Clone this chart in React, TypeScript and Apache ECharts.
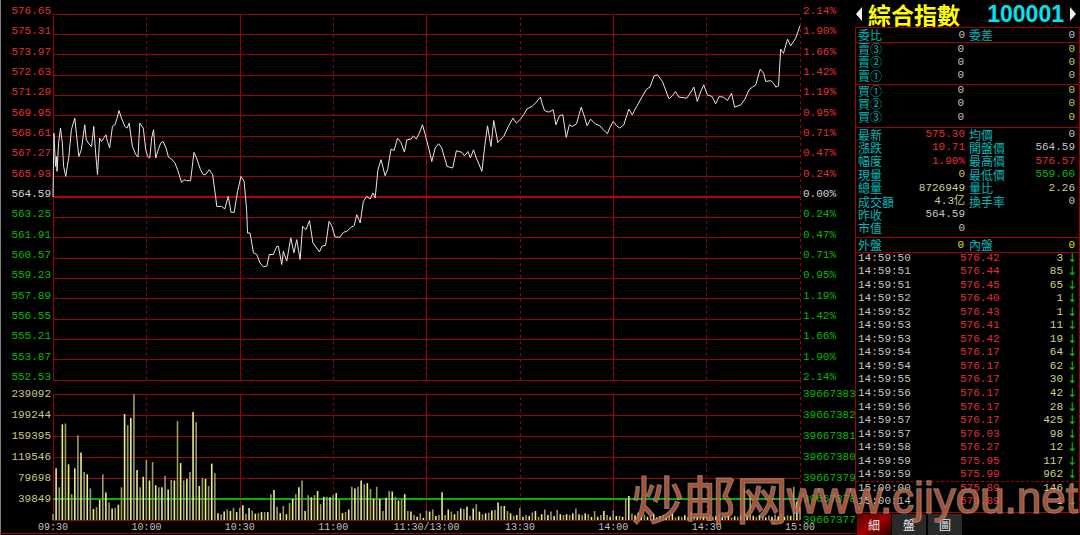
import React, { useEffect, useRef } from 'react';
import * as echarts from 'echarts';

// ---------- chart data ----------
const PREV_CLOSE = 564.59;
const PRICE_STEP = 1.34;
const PRICE_STEPS = 9;
const TIME_LABELS = ['09:30', '10:00', '10:30', '11:00', '11:30/13:00', '13:30', '14:00', '14:30', '15:00'];
const SOLID_X = [60, 120, 180];
const DASHED_X = [30, 90, 150, 210, 240];

// minutes since 09:30 (trading minutes) and index values
const PRICE_MIN = [
  0, 0.3, 0.8, 1.1, 1.3, 1.8, 2.4, 3.0, 3.4, 4.1, 5.1, 5.9, 7.0, 7.5, 8.3, 9.1, 10.2, 10.7, 11.8, 12.4,
  13.1, 13.7, 14.3, 15.0, 15.6, 16.3, 17.0, 17.5, 18.2, 19.1, 19.9, 20.6, 21.2, 22.0, 23.1, 23.8, 24.5, 24.9, 25.5, 26.6,
  27.3, 27.9, 29.0, 29.8, 30.4, 31.1, 31.7, 32.3, 33.0, 33.8, 34.6, 35.4, 36.3, 37.1, 38.1, 39.2, 40.2, 41.3, 42.1, 42.9,
  44.2, 45.3, 46.1, 47.4, 48.3, 49.0, 50.2, 51.3, 52.3, 52.6, 54.2, 55.2, 56.3, 57.2, 58.2, 59.3, 60.4, 61.4, 62.2, 62.5,
  63.3, 64.4, 65.5, 66.5, 67.6, 68.7, 69.5, 70.8, 71.9, 72.4, 73.5, 74.0, 75.1, 76.4, 77.4, 78.3, 79.4, 80.2, 81.3, 82.4,
  83.5, 85.6, 86.4, 87.6, 88.7, 89.6, 90.6, 92.2, 93.3, 94.4, 95.8, 96.8, 97.6, 98.7, 99.7, 100.8, 101.9, 102.8, 103.5, 104.4,
  105.4, 106.7, 107.5, 108.6, 109.6, 110.7, 111.8, 112.9, 113.7, 115.1, 115.8, 116.7, 117.7, 118.7, 119.6, 120.7, 121.7, 122.8, 123.9, 124.9,
  126.6, 128.4, 129.6, 131.4, 132.2, 133.3, 134.1, 135.1, 136.0, 136.7, 137.8, 138.7, 139.6, 140.7, 141.6, 142.9, 144.8, 146.4, 147.8, 148.9,
  150.2, 151.2, 152.3, 153.9, 155.0, 156.6, 157.1, 157.9, 159.3, 160.7, 161.6, 162.7, 163.8, 164.9, 165.9, 166.8, 168.2, 169.7, 170.8, 171.6,
  172.7, 174.3, 175.7, 176.8, 178.1, 179.1, 180.0, 181.0, 182.1, 183.4, 185.0, 186.1, 187.5, 189.3, 190.7, 191.8, 193.1, 194.2, 195.8, 196.8,
  197.9, 199.0, 200.0, 201.1, 203.6, 204.6, 205.9, 207.0, 208.1, 209.1, 210.2, 211.8, 212.9, 214.0, 215.4, 216.7, 218.0, 219.0, 221.0, 222.3,
  223.6, 224.7, 225.8, 227.2, 228.3, 229.0, 230.6, 231.5, 232.2, 233.1, 233.8, 234.7, 236.0, 237.0, 238.6, 240.0,
];
const PRICE = [
  564.59, 568.80, 566.61, 567.26, 566.28, 568.14, 569.13, 568.14, 566.61, 565.95, 567.26, 569.02, 569.79, 568.80, 567.26, 567.70, 569.35, 568.36, 568.03, 567.92,
  569.24, 567.49, 566.06, 568.47, 568.25, 568.47, 568.69, 568.25, 567.82, 569.24, 569.35, 569.79, 570.29, 569.79, 569.24, 569.13, 569.46, 568.80, 567.92, 567.38,
  567.22, 569.46, 569.13, 567.70, 567.26, 567.16, 568.47, 569.02, 567.16, 567.70, 568.14, 568.25, 567.82, 567.22, 567.09, 566.83, 566.28, 565.55, 565.73, 565.66,
  565.66, 567.53, 567.16, 566.39, 566.06, 566.06, 566.39, 566.06, 564.53, 563.97, 563.97, 563.80, 564.63, 563.58, 563.58, 564.96, 565.95, 565.62, 563.76, 562.22,
  562.22, 560.91, 560.80, 560.25, 559.99, 560.03, 560.80, 560.80, 561.34, 561.34, 560.14, 561.01, 560.36, 561.90, 560.91, 561.78, 560.47, 562.66, 562.44, 563.03,
  561.57, 560.97, 561.34, 561.41, 562.99, 562.66, 561.96, 561.94, 562.26, 562.33, 562.59, 562.72, 563.43, 562.88, 564.30, 564.63, 564.46, 564.86, 564.53, 566.39,
  567.05, 565.99, 566.39, 567.75, 567.66, 568.47, 568.18, 567.55, 568.36, 568.41, 568.62, 568.41, 568.80, 569.35, 568.69, 567.82, 566.93, 567.82, 568.10, 567.82,
  566.61, 566.50, 567.64, 567.53, 567.31, 567.59, 567.16, 567.70, 567.16, 566.83, 566.28, 567.92, 569.28, 567.92, 569.63, 568.18, 568.58, 569.28, 569.79, 569.46,
  569.72, 570.01, 570.40, 570.55, 570.78, 571.17, 570.78, 570.29, 570.18, 570.34, 569.35, 569.94, 570.01, 568.51, 569.35, 569.24, 569.41, 570.51, 569.85, 569.28,
  569.72, 569.41, 569.28, 569.02, 568.76, 569.24, 569.57, 569.30, 569.13, 569.35, 570.38, 570.01, 570.55, 571.21, 571.70, 571.83, 572.57, 572.64, 572.20, 571.65,
  571.06, 571.26, 571.54, 571.17, 571.10, 571.39, 571.83, 570.88, 571.54, 571.98, 571.32, 571.21, 570.73, 571.21, 571.17, 570.95, 571.43, 570.51, 570.66, 571.04,
  571.65, 571.83, 571.98, 573.01, 572.75, 572.20, 572.26, 572.09, 571.83, 571.91, 574.33, 574.06, 574.99, 574.55, 575.05, 575.86,
];

// volume per minute (index = minute 0..240)
const VOLUME = [
  11400, 98000, 62000, 181500, 183000, 105600, 49000, 98000, 161000, 128000, 91000, 86700, 60000, 21000, 24700, 38000, 87000, 52000, 33000, 22000,
  23000, 29000, 62000, 201000, 180000, 193500, 239000, 95000, 62000, 82000, 114000, 75000, 110000, 66000, 62000, 62000, 84000, 58000, 76000, 75000,
  188000, 108000, 75000, 78000, 91000, 205000, 186000, 64500, 80000, 78000, 64500, 107000, 88500, 12600, 11000, 16000, 20000, 17000, 23000, 15000,
  23000, 28000, 12000, 23000, 18000, 12000, 13000, 15000, 15000, 15000, 49000, 57000, 25000, 13000, 26500, 11000, 32000, 40000, 49000, 62000,
  75000, 17000, 47000, 43000, 47000, 55000, 30000, 44000, 44000, 43000, 47000, 51000, 39000, 13000, 15000, 20000, 63000, 60000, 63000, 75000,
  68000, 70000, 59000, 40000, 63000, 40000, 17000, 42000, 55000, 54000, 44000, 37000, 40000, 49000, 17000, 16000, 9500, 6000, 12600, 4000,
  18000, 16000, 20000, 7600, 9500, 52500, 9500, 20000, 16000, 11000, 17000, 22000, 21000, 25000, 8000, 22000, 30000, 16000, 11000, 12600,
  14000, 18000, 19000, 33000, 26500, 26500, 17000, 12600, 8000, 9500, 23000, 6000, 9500, 7600, 14500, 17000, 6000, 11000, 20000, 9500,
  16000, 7600, 19000, 11000, 9500, 11000, 9500, 12600, 22000, 11000, 9500, 12600, 11000, 6000, 17000, 6000, 9500, 17000, 9500, 6000,
  18000, 7600, 7600, 6000, 40000, 45500, 12000, 9000, 14000, 7000, 10000, 6000, 8000, 11000, 5000, 7000, 9000, 6000, 8000, 12000,
  5000, 7000, 6000, 9000, 5000, 16000, 7000, 6000, 10000, 8000, 5000, 9000, 6000, 7000, 11000, 5000, 6000, 8000, 5000, 7000,
  6000, 9000, 61000, 10000, 52000, 8000, 6000, 9000, 7000, 5000, 8000, 6000, 10000, 7000, 12000, 6000, 9000, 8000, 63000, 35000,
  25000,
];
const VOL_MAX = 239092;
const VOL_LABELS = ['', '39849', '79698', '119546', '159395', '199244', '239092'];
const VOL_AVG_LINE = 39849;
const VOL_RIGHT_MIN = 39667377;
const VOL_RIGHT_MAX = 39667383;

// ---------- quote panel data ----------
const TITLE_NAME = '綜合指數';
const TITLE_CODE = '100001';
const ORDER_INFO = [['委比', '0'], ['委差', '0']];
const ASK_LABELS = ['賣③', '賣②', '賣①'];
const BID_LABELS = ['買①', '買②', '買③'];
const LEVEL_PRICES = ['0', '0', '0'];
const LEVEL_VOLS = ['0', '0', '0'];
const QUOTE_LEFT_LABELS = ['最新', '漲跌', '幅度', '現量', '總量', '成交額', '昨收', '市值'];
const QUOTE_LEFT_VALUES = ['575.30', '10.71', '1.90%', '0', '8726949', '4.3亿', '564.59', '0'];
const QUOTE_RIGHT_LABELS = ['均價', '開盤價', '最高價', '最低價', '量比', '換手率'];
const QUOTE_RIGHT_VALUES = ['0', '564.59', '576.57', '559.60', '2.26', '0'];
const OUTER_INNER = [['外盤', '0'], ['內盤', '0']];
const TICK_TIMES = ['14:59:50', '14:59:51', '14:59:51', '14:59:52', '14:59:52', '14:59:53', '14:59:53', '14:59:54', '14:59:54', '14:59:55',
  '14:59:56', '14:59:56', '14:59:57', '14:59:57', '14:59:58', '14:59:59', '14:59:59', '15:00:00', '15:00:14'];
const TICK_PRICES = ['576.42', '576.44', '576.45', '576.40', '576.43', '576.41', '576.42', '576.17', '576.17', '576.17',
  '576.17', '576.17', '576.17', '576.03', '576.27', '575.95', '575.99', '575.89', '575.89'];
const TICK_VOLS = ['3', '85', '65', '1', '1', '11', '19', '64', '62', '30', '42', '28', '425', '98', '12', '117', '962', '146', '1'];
const TABS = ['細', '盤', '圖'];

// ---------- styles ----------
const RED = '#e42e2e';
const GREEN = '#00bc00';
const WHITE = '#d4d4d4';
const GRID_RED = '#9c0000';
const MONO = '"Liberation Mono", "DejaVu Sans Mono", monospace';
const CJK = '"Noto Sans CJK TC", "Noto Sans CJK SC", sans-serif';

function txt(x: number, y: number, text: string, fill: string, font: string, align = 'left', extra: any = {}) {
  return {
    type: 'text', x, y, silent: true, z: 50,
    style: { text, fill, font, align, textAlign: align, verticalAlign: 'middle', textVerticalAlign: 'middle', ...extra },
  };
}

function vLines() {
  return [
    ...SOLID_X.map((v) => ({ xAxis: v, lineStyle: { type: 'solid', color: GRID_RED, width: 1 } })),
    ...DASHED_X.map((v) => ({ xAxis: v, lineStyle: { type: [3, 3], color: GRID_RED, width: 1 } })),
  ];
}

function buildPanel(): any[] {
  const els: any[] = [];
  const cjk12 = `12px ${CJK}`;
  const mono11 = `11px ${MONO}`;
  const CYAN = '#00b8b8';
  const GRAY = '#c4c4c4';
  const YEL = '#c8c850';
  const KHAKI = '#d0d088';
  const L = 855, W = 224;
  // title
  els.push({ type: 'polygon', z: 50, shape: { points: [[856, 14], [862, 7], [862, 21]] }, style: { fill: '#f0f0f0' } });
  els.push({ type: 'polygon', z: 50, shape: { points: [[1076, 14], [1070, 7], [1070, 21]] }, style: { fill: '#f0f0f0' } });
  els.push(txt(868, 14, TITLE_NAME, '#ffff00', `bold 23px ${CJK}`));
  els.push(txt(1064, 14, TITLE_CODE, '#00e4f0', `bold 23px "Liberation Sans", Arial, sans-serif`, 'right'));
  // boxes
  const boxes = [[27, 15], [42, 42], [84, 43], [127, 110], [237, 15], [252, 260]];
  boxes.forEach(([y, h]) => {
    els.push({ type: 'rect', z: 49, shape: { x: L + 0.5, y: y + 0.5, width: W, height: h }, style: { fill: 'none', stroke: '#a00000', lineWidth: 1 } });
  });
  // box 1
  els.push(txt(858, 34.5, ORDER_INFO[0][0], CYAN, cjk12));
  els.push(txt(965, 34.5, ORDER_INFO[0][1], GRAY, mono11, 'right'));
  els.push(txt(969, 34.5, ORDER_INFO[1][0], CYAN, cjk12));
  els.push(txt(1075, 34.5, ORDER_INFO[1][1], GRAY, mono11, 'right'));
  // asks / bids
  ASK_LABELS.forEach((lab, i) => {
    const y = 48.5 + i * 13.4;
    els.push(txt(858, y, lab, CYAN, cjk12));
    els.push(txt(964, y, LEVEL_PRICES[i], GRAY, mono11, 'right'));
    els.push(txt(1075, y, LEVEL_VOLS[i], YEL, mono11, 'right'));
  });
  BID_LABELS.forEach((lab, i) => {
    const y = 90 + i * 13.4;
    els.push(txt(858, y, lab, CYAN, cjk12));
    els.push(txt(964, y, LEVEL_PRICES[i], GRAY, mono11, 'right'));
    els.push(txt(1075, y, LEVEL_VOLS[i], YEL, mono11, 'right'));
  });
  // quote block
  const leftColors = [RED, RED, RED, YEL, KHAKI, KHAKI, GRAY, GRAY];
  const rightColors = [GRAY, GRAY, RED, GREEN, KHAKI, GRAY];
  QUOTE_LEFT_LABELS.forEach((lab, i) => {
    const y = 134 + i * 13.4;
    els.push(txt(858, y, lab, CYAN, cjk12));
    els.push(txt(965, y, QUOTE_LEFT_VALUES[i], leftColors[i], `11px ${MONO}, ${CJK}`, 'right'));
  });
  QUOTE_RIGHT_LABELS.forEach((lab, i) => {
    const y = 134 + i * 13.4;
    els.push(txt(969, y, lab, CYAN, cjk12));
    els.push(txt(1075, y, QUOTE_RIGHT_VALUES[i], rightColors[i], mono11, 'right'));
  });
  // outer/inner
  els.push(txt(858, 244.5, OUTER_INNER[0][0], CYAN, cjk12));
  els.push(txt(964, 244.5, OUTER_INNER[0][1], '#e0e000', mono11, 'right'));
  els.push(txt(969, 244.5, OUTER_INNER[1][0], CYAN, cjk12));
  els.push(txt(1075, 244.5, OUTER_INNER[1][1], '#e0e000', mono11, 'right'));
  // ticks
  TICK_TIMES.forEach((t, i) => {
    const y = 257.5 + i * 13.55;
    els.push(txt(858, y, t, GRAY, mono11));
    els.push(txt(960, y, TICK_PRICES[i], RED, mono11));
    els.push(txt(1063, y, TICK_VOLS[i], KHAKI, mono11, 'right'));
    els.push(txt(1072, y, '↓', '#00d000', `12px "DejaVu Sans", sans-serif`, 'center'));
  });
  els.push({ type: 'line', z: 49, shape: { x1: 856, y1: 481.5, x2: 1079, y2: 481.5 }, style: { stroke: '#a00000', lineWidth: 1, lineDash: [3, 2] } });
  // tabs
  const tabX = [857, 892, 928];
  TABS.forEach((t, i) => {
    const fill = i === 0
      ? new echarts.graphic.LinearGradient(0, 0, 1, 1, [{ offset: 0, color: '#5a0000' }, { offset: 0.5, color: '#a00000' }, { offset: 1, color: '#300000' }])
      : '#2a2a2a';
    els.push({ type: 'rect', z: 49, shape: { x: tabX[i], y: 514, width: 34, height: 21 }, style: { fill } });
    els.push(txt(tabX[i] + 17, 524.5, t, '#e8e8e8', cjk12, 'center'));
  });
  return els;
}

function buildFrame(): any[] {
  return [
    { type: 'line', z: 49, shape: { x1: 0.5, y1: 0, x2: 0.5, y2: 535 }, style: { stroke: '#808080', lineWidth: 1 } },
    { type: 'line', z: 49, shape: { x1: 0, y1: 533.5, x2: 855, y2: 533.5 }, style: { stroke: '#a00000', lineWidth: 1 } },
    { type: 'line', z: 49, shape: { x1: 800.5, y1: 380, x2: 800.5, y2: 394 }, style: { stroke: GRID_RED, lineWidth: 1, lineDash: [3, 3] } },
  ];
}

function buildWatermark(): any[] {
  const common = { fill: 'rgba(188, 96, 64, 0.85)', stroke: 'rgba(215, 205, 195, 0.55)', lineWidth: 1.5 };
  return [
    { type: 'text', z: 90, silent: true, x: 1078, y: 497, style: { text: 'www.cjiyou.net', font: `44px "Liberation Sans", Arial, sans-serif`, align: 'right', textAlign: 'right', verticalAlign: 'middle', textVerticalAlign: 'middle', ...common } },
    { type: 'text', z: 91, silent: true, x: 632, y: 497, style: { text: '炒邮网', font: `52px "Noto Sans CJK SC", sans-serif`, align: 'left', textAlign: 'left', verticalAlign: 'middle', textVerticalAlign: 'middle', ...common } },
  ];
}

export default function App() {
  const ref = useRef<HTMLDivElement>(null);
  useEffect(() => {
    if (!ref.current) return;
    const chart = echarts.init(ref.current, undefined, { renderer: 'svg' });
    const span = PRICE_STEP * PRICE_STEPS;
    const offsets = PRICE.map((p) => +(p - PREV_CLOSE).toFixed(2));
    const labelPad = [0, 0, 6, 0];
    const option: any = {
      animation: false,
      backgroundColor: '#000',
      grid: [
        { left: 53, right: 280, top: 14, height: 366 },
        { left: 53, right: 280, top: 394, height: 126 },
      ],
      xAxis: [
        { type: 'value', gridIndex: 0, min: 0, max: 240, interval: 30, axisLine: { show: false }, axisTick: { show: false }, axisLabel: { show: false }, splitLine: { show: false } },
        {
          type: 'value', gridIndex: 1, min: 0, max: 240, interval: 30,
          axisLine: { show: true, lineStyle: { color: GRID_RED } }, axisTick: { show: false }, splitLine: { show: false },
          axisLabel: {
            color: '#c0c0c0', fontFamily: MONO, fontSize: 10, margin: 2, showMinLabel: true, showMaxLabel: true, hideOverlap: false,
            formatter: (v: number) => TIME_LABELS[Math.round(v / 30)] ?? '',
          },
        },
      ],
      yAxis: [
        {
          type: 'value', gridIndex: 0, position: 'left', min: -span, max: span, interval: PRICE_STEP,
          axisLine: { show: true, lineStyle: { color: GRID_RED } }, axisTick: { show: false },
          splitLine: { show: true, lineStyle: { color: GRID_RED, width: 1 } },
          axisLabel: {
            margin: 2, padding: labelPad, fontFamily: MONO, fontSize: 11,
            formatter: (v: number) => {
              const k = v > 0.005 ? 'u' : v < -0.005 ? 'd' : 'e';
              return `{${k}|${(v + PREV_CLOSE).toFixed(2)}}`;
            },
            rich: {
              u: { color: RED, fontFamily: MONO, fontSize: 11 },
              d: { color: GREEN, fontFamily: MONO, fontSize: 11 },
              e: { color: WHITE, fontFamily: MONO, fontSize: 11 },
            },
          },
        },
        {
          type: 'value', gridIndex: 0, position: 'right', min: -span, max: span, interval: PRICE_STEP,
          axisLine: { show: false }, axisTick: { show: false }, splitLine: { show: false },
          axisLabel: {
            margin: 3, padding: labelPad, fontFamily: MONO, fontSize: 11,
            formatter: (v: number) => {
              const k = v > 0.005 ? 'u' : v < -0.005 ? 'd' : 'e';
              return `{${k}|${(Math.abs(v) / PREV_CLOSE * 100).toFixed(2)}%}`;
            },
            rich: {
              u: { color: RED, fontFamily: MONO, fontSize: 11 },
              d: { color: GREEN, fontFamily: MONO, fontSize: 11 },
              e: { color: WHITE, fontFamily: MONO, fontSize: 11 },
            },
          },
        },
        {
          type: 'value', gridIndex: 1, position: 'left', min: 0, max: VOL_MAX, interval: VOL_MAX / 6,
          axisLine: { show: true, lineStyle: { color: GRID_RED } }, axisTick: { show: false },
          splitLine: { show: true, lineStyle: { color: GRID_RED, width: 1 } },
          axisLabel: {
            margin: 2, padding: labelPad, color: '#c8c882', fontFamily: MONO, fontSize: 11,
            formatter: (v: number) => VOL_LABELS[Math.round(v / (VOL_MAX / 6))] ?? '',
          },
        },
        {
          type: 'value', gridIndex: 1, position: 'right', min: VOL_RIGHT_MIN, max: VOL_RIGHT_MAX, interval: 1,
          axisLine: { show: false }, axisTick: { show: false }, splitLine: { show: false },
          axisLabel: { margin: 3, padding: labelPad, color: GREEN, fontFamily: MONO, fontSize: 11, formatter: (v: number) => String(Math.round(v)) },
        },
      ],
      series: [
        {
          type: 'line', xAxisIndex: 0, yAxisIndex: 0,
          data: PRICE_MIN.map((m, i) => [m, offsets[i]]),
          showSymbol: false, symbol: 'none',
          lineStyle: { color: '#e6e6e6', width: 1 },
          z: 5,
          markLine: {
            silent: true, symbol: ['none', 'none'], label: { show: false }, z: 1,
            data: [...vLines(), { yAxis: 0, lineStyle: { type: 'solid', color: '#b80000', width: 2 } }],
          },
        },
        {
          type: 'bar', xAxisIndex: 1, yAxisIndex: 2,
          data: VOLUME.map((v, i) => [i, v]),
          barWidth: 1.6,
          itemStyle: { color: (p: any) => (p.dataIndex % 2 === 0 ? '#9c9c62' : '#ecec8a') },
          z: 5,
          markLine: {
            silent: true, symbol: ['none', 'none'], label: { show: false }, z: 1,
            data: [...vLines(), { yAxis: VOL_AVG_LINE, lineStyle: { type: 'solid', color: '#00b000', width: 2 } }],
          },
        },
      ],
      graphic: { elements: [...buildFrame(), ...buildPanel(), ...buildWatermark()] },
    };
    chart.setOption(option);
    return () => chart.dispose();
  }, []);
  return (
    <div
      ref={ref}
      style={{ position: 'fixed', left: 0, top: 0, width: 1080, height: 535, background: '#000' }}
    />
  );
}
